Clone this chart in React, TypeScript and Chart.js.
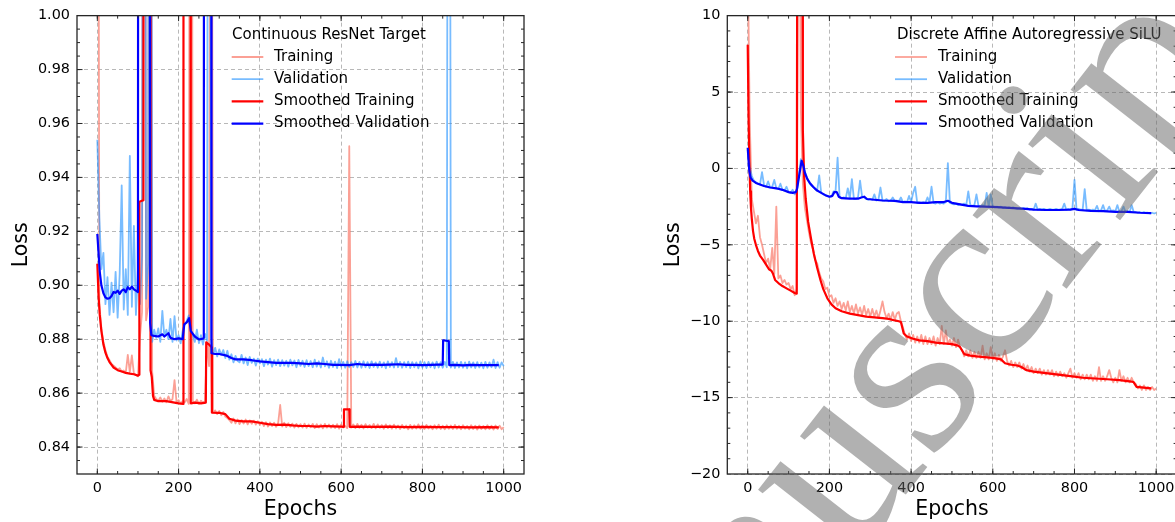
import React, { useEffect, useRef } from "react";
import { Chart, registerables } from "chart.js";
Chart.register(...registerables);

const FONT = "'DejaVu Sans', 'Noto Sans', sans-serif";

// raw logs are sampled every 5 epochs
const epochs: number[] = Array.from({ length: 201 }, (_, i) => i * 5);
const xMajorTicks = [0, 200, 400, 600, 800, 1000];
const yTicksLeft = [0.84, 0.86, 0.88, 0.9, 0.92, 0.94, 0.96, 0.98, 1.0];
const yTicksRight = [-20, -15, -10, -5, 0, 5, 10];

// ---------- Left panel: Continuous ResNet Target ----------
const trainLeft = [
  1.30, .893, .884, .879, .876, .8735, .8722, .8708, .8702, .8695,
  .8688, .8692, .8680, .8684, .8675, .8742, .8678, .8740, .8672, .8668,
  .8662, .8810, .8900, 1.40, .8870, .8920, 1.40, .8680, .8590, .8578,
  .8572, .8584, .8568, .8580, .8566, .8588, .8570, .8578, .8648, .8566,
  .8574, .8562, .8570, .8566, .8578, .8560, 1.40, .8570, .8562, .8576,
  .8560, .8572, .8564, .8570, .8790, .8700, 1.20, .8530, .8536, .8522,
  .8534, .8518, .8530, .8513, .8508, .8500, .8490, .8506, .8488, .8502,
  .8485, .8500, .8487, .8502, .8484, .8499, .8486, .8498, .8483, .8496,
  .8482, .8494, .8478, .8492, .8476, .8491, .8478, .8490, .8475, .8489,
  .8556, .8476, .8490, .8474, .8488, .8475, .8487, .8472, .8486, .8473,
  .8485, .8472, .8487, .8471, .8484, .8473, .8486, .8470, .8485, .8472,
  .8484, .8469, .8486, .8472, .8484, .8471, .8483, .8470, .8485, .8468,
  .8484, .8472, .8478, .8470, .9516, .8472, .8484, .8470, .8486, .8471,
  .8483, .8469, .8485, .8472, .8482, .8470, .8486, .8469, .8484, .8471,
  .8482, .8468, .8484, .8470, .8481, .8468, .8483, .8469, .8480, .8467,
  .8482, .8470, .8480, .8466, .8482, .8468, .8481, .8469, .8484, .8468,
  .8480, .8467, .8482, .8469, .8479, .8466, .8481, .8468, .8483, .8467,
  .8479, .8466, .8481, .8468, .8480, .8467, .8482, .8468, .8479, .8466,
  .8481, .8468, .8478, .8466, .8481, .8467, .8479, .8465, .8480, .8467,
  .8478, .8466, .8481, .8467, .8479, .8465, .8480, .8467, .8479, .8466,
  .8474,
];
const valLeft = [
  .954, .925, .906, .912, .893, .903, .889, .901, .890, .905,
  .888, .904, .937, .891, .906, .889, .948, .892, .922, .889,
  .906, .893, .911, 1.40, .895, .908, 1.40, .879, .8835, .8805,
  .8840, .8790, .8905, .8810, .8835, .8800, .8875, .8790, .8885, .8795,
  .8815, .8785, .8830, .8855, .8868, .8888, .8835, .8815, .8790, .8835,
  .8785, .8815, .8780, .8820, .8795, 1.40, .8805, .8745, .8768, .8736,
  .8762, .8742, .8760, .8730, .8757, .8724, .8744, .8714, .8738, .8720,
  .8714, .8742, .8710, .8732, .8704, .8734, .8712, .8728, .8702, .8728,
  .8710, .8726, .8700, .8724, .8706, .8728, .8698, .8722, .8704, .8724,
  .8700, .8722, .8702, .8720, .8698, .8724, .8703, .8721, .8696, .8723,
  .8701, .8720, .8697, .8722, .8700, .8719, .8696, .8724, .8698, .8718,
  .8695, .8732, .8699, .8718, .8694, .8720, .8697, .8717, .8693, .8726,
  .8698, .8716, .8694, .8718, .8696, .8715, .8697, .8719, .8695, .8716,
  .8694, .8718, .8696, .8715, .8693, .8718, .8697, .8714, .8694, .8717,
  .8696, .8714, .8692, .8718, .8697, .8715, .8695, .8730, .8696, .8716,
  .8694, .8715, .8696, .8717, .8693, .8715, .8696, .8714, .8692, .8718,
  .8695, .8715, .8693, .8716, .8696, .8714, .8692, .8717, .8695, .8715,
  .8694, .8716, .8696, 1.40, .8695, .8716, .8693, .8714, .8695, .8716,
  .8694, .8714, .8692, .8717, .8695, .8714, .8693, .8715, .8695, .8713,
  .8692, .8716, .8694, .8714, .8696, .8724, .8693, .8715, .8694, .8714,
  .8700,
];
const smoothTrainLeftEpochs = [
  0, 3, 6, 10, 15, 20, 25, 30, 40, 50, 60, 70, 80, 90, 100, 103, 103.5, 113, 113.5, 130,
  131, 134, 137, 140, 150, 170, 190, 200, 211, 212, 229, 230, 240, 255, 267, 268, 275, 281, 282, 300,
  315, 325, 340, 360, 380, 400, 420, 440, 460, 480, 500, 520, 540, 560, 580, 600, 606, 607, 620, 621,
  640, 680, 720, 760, 800, 840, 880, 920, 960, 988,
];
const smoothTrainLeftValues = [
  .908, .896, .889, .883, .878, .875, .873, .8715, .8695, .8685, .868, .8675, .8672, .867, .8665, .8668, .931, .9315, 1.3, 1.3,
  .8685, .866, .859, .8575, .857, .857, .8565, .8562, .856, 1.3, 1.3, .8562, .8565, .8562, .8565, .8788, .878, .877, .8528, .8527,
  .8522, .8505, .8498, .8495, .8495, .849, .8485, .8482, .8483, .848, .8478, .8478, .8476, .8478, .8477, .8476, .8475, .854, .854, .8475,
  .8476, .8475, .8476, .8474, .8475, .8474, .8474, .8473, .8474, .8473,
];
const smoothValLeftEpochs = [
  0, 3, 6, 10, 15, 20, 25, 30, 35, 40, 45, 50, 55, 60, 65, 70, 75, 80, 85, 90,
  95, 100, 101, 129, 130, 133, 140, 150, 160, 165, 175, 180, 190, 200, 210, 214, 220, 226, 230, 240,
  250, 260, 262, 263, 280, 281, 290, 300, 310, 320, 330, 340, 360, 380, 400, 420, 440, 460, 480, 500,
  520, 540, 560, 580, 600, 620, 640, 660, 680, 700, 720, 740, 760, 780, 800, 820, 840, 850, 851, 865,
  866, 880, 900, 920, 940, 960, 988,
];
const smoothValLeftValues = [
  .919, .912, .905, .900, .897, .8955, .895, .8952, .896, .8975, .8972, .898, .8968, .898, .8985, .8975, .8993, .8985, .8995, .8985,
  .898, .8975, 1.3, 1.3, .886, .8815, .8812, .881, .8818, .881, .8822, .8805, .880, .8803, .880, .8855, .8862, .8878, .883, .881,
  .8799, .8802, .8805, 1.3, 1.3, .8748, .8745, .8745, .8742, .8738, .873, .8725, .8725, .8722, .8718, .8715, .8712, .8712, .8712, .871,
  .8708, .871, .8708, .8705, .8705, .8704, .8708, .8705, .8706, .8705, .8706, .8707, .8705, .8705, .8704, .8705, .8706, .8706, .8796, .8793,
  .8704, .8705, .8703, .8705, .8704, .8704, .8704,
];

// ---------- Right panel: Discrete Affine Autoregressive SiLU ----------
const trainRight = [
  14.0, 3.0, -2.0, -2.8, -3.6, -3.1, -4.5, -5.0, -5.6, -6.2,
  -5.9, -6.6, -5.2, -6.9, -2.5, -7.2, -7.0, -7.5, -7.3, -7.6,
  -7.5, -7.9, -7.7, -8.3, -7.9, 30.0, 3.9,
  -1.0, -2.6, -3.4, -4.2, -4.9, -5.3, -6.0, -6.2, -6.8, -7.2,
  -7.4, -7.9, -7.8, -8.4, -8.3, -8.8, -8.5, -9.0, -8.7, -9.2,
  -8.8, -9.3, -8.7, -9.4, -9.0, -9.5, -8.9, -9.5, -9.1, -9.6,
  -9.0, -9.6, -9.2, -9.7, -9.2, -9.7, -9.3, -9.8, -9.3, -8.7,
  -9.4, -9.8, -9.5, -9.9, -9.4, -9.9, -9.5, -9.4, -10.0, -10.4,
  -10.9, -11.2, -10.8, -11.3, -10.9, -11.4, -11.0, -11.4, -10.9, -11.5,
  -11.0, -11.5, -11.1, -11.5, -11.0, -11.6, -11.1, -11.5, -10.3, -11.5,
  -10.6, -11.5, -11.2, -11.6, -11.1, -11.7, -11.2, -11.7, -11.9, -12.3,
  -11.9, -12.3, -11.9, -12.4, -12.0, -12.4, -12.0, -12.4, -11.6, -12.5,
  -12.1, -12.5, -11.7, -12.5, -12.1, -12.6, -12.2, -12.6, -12.3, -11.9,
  -12.6, -12.9, -12.6, -13.0, -12.7, -13.0, -12.7, -13.1, -12.8, -13.2,
  -12.9, -13.3, -13.0, -13.4, -13.1, -13.4, -13.1, -13.5, -13.2, -13.5,
  -13.2, -13.5, -13.2, -13.6, -13.3, -13.6, -13.3, -13.6, -13.4, -13.7,
  -13.4, -13.1, -13.7, -13.4, -13.7, -13.4, -13.8, -13.5, -13.8, -13.5,
  -13.8, -13.5, -13.9, -13.6, -13.9, -13.0, -13.9, -13.6, -13.9, -13.6,
  -13.2, -13.7, -14.0, -13.7, -14.0, -13.2, -13.9, -13.6, -14.0, -13.7,
  -14.0, -13.7, -14.0, -14.1, -14.4, -14.2, -14.5, -14.2, -14.5, -14.3,
  -14.5, -14.3, -14.5, -14.4,
];
const valRight = [
  1.2, 0.1, -0.5, -0.8, -0.9, -1.0, -1.05, -0.25, -1.1, -1.2,
  -0.85, -1.25, -1.2, -0.75, -1.3, -1.35, -1.0, -1.4, -1.45, -1.2,
  -1.55, -1.6, -1.4, -1.7, -1.6, -0.5, 0.6, 0.3, -0.2, -0.6,
  -0.9, -1.1, -1.2, -1.35, -1.45, -0.45, -1.6, -1.7, -1.75, -1.8,
  -1.85, -1.85, -1.5, -1.5, 0.7, -1.9, -1.95, -1.9, -1.95, -1.3,
  -1.95, -0.7, -2.0, -2.0, -1.9, -0.8, -1.85, -1.9, -2.0, -2.05,
  -2.0, -2.05, -1.7, -2.1, -2.05, -1.25, -2.1, -2.1, -2.0, -2.15,
  -2.1, -1.9, -2.15, -2.1, -2.15, -1.9, -2.2, -2.15, -2.2, -1.8,
  -2.2, -1.6, -1.2, -2.25, -2.2, -2.25, -2.2, -2.25, -1.9, -2.2,
  -1.2, -2.25, -2.3, -2.2, -2.3, -2.25, -2.3, -2.2, 0.35, -2.25,
  -2.3, -2.35, -2.3, -2.4, -2.35, -2.4, -2.3, -2.4, -1.5, -2.4,
  -2.45, -2.4, -1.7, -2.45, -2.5, -2.4, -2.45, -1.6, -2.5, -1.7,
  -2.5, -2.55, -2.5, -2.55, -2.5, -2.6, -2.55, -2.6, -2.55, -2.6,
  -2.55, -2.6, -2.65, -2.6, -2.65, -2.6, -2.65, -2.6, -2.7, -2.65,
  -2.7, -2.3, -2.7, -2.65, -2.7, -2.65, -2.7, -2.7, -2.65, -2.7,
  -2.7, -2.65, -2.7, -2.7, -2.65, -2.3, -2.7, -2.65, -2.7, -2.6,
  -0.75, -2.7, -2.65, -2.7, -2.7, -1.35, -2.75, -2.7, -2.75, -2.7,
  -2.75, -2.45, -2.8, -2.75, -2.4, -2.8, -2.75, -2.5, -2.8, -2.75,
  -2.8, -2.4, -2.85, -2.8, -2.5, -2.85, -2.8, -2.85, -2.4, -2.85,
  -2.85, -2.9, -2.85, -2.9, -2.85, -2.9, -2.9, -2.95, -2.9, -2.95,
  -2.9,
];
const smoothTrainRightEpochs = [
  0, 2, 4, 6, 8, 10, 13, 16, 20, 25, 30, 38, 45, 52, 58, 62, 67, 75, 85, 95,
  105, 115, 120, 121, 134, 135, 138, 142, 148, 155, 162, 170, 178, 185, 195, 205, 215, 230, 250, 270,
  290, 310, 330, 345, 360, 370, 375, 382, 390, 405, 420, 440, 460, 480, 500, 515, 520, 530, 545, 560,
  580, 600, 620, 630, 645, 660, 670, 682, 700, 730, 760, 790, 820, 850, 880, 910, 940, 945, 952, 970,
  988,
];
const smoothTrainRightValues = [
  8.1, 3.5, 0.5, -1.5, -2.6, -3.3, -4.1, -4.6, -5.0, -5.4, -5.7, -6.0, -6.3, -6.6, -6.7, -6.9, -7.3, -7.5, -7.7, -7.85,
  -8.0, -8.15, -8.2, 12, 12, 2.5, -0.5, -2.0, -3.5, -4.6, -5.6, -6.5, -7.3, -7.9, -8.5, -8.9, -9.15, -9.35, -9.5, -9.6,
  -9.7, -9.75, -9.8, -9.85, -9.95, -10.0, -10.05, -10.8, -11.0, -11.15, -11.25, -11.3, -11.4, -11.45, -11.5, -11.6, -11.7, -12.15, -12.25, -12.3,
  -12.35, -12.4, -12.5, -12.75, -12.85, -12.9, -13.0, -13.2, -13.3, -13.4, -13.5, -13.6, -13.7, -13.75, -13.8, -13.85, -13.95, -14.0, -14.3, -14.35,
  -14.4,
];
const smoothValRightEpochs = [
  0, 2, 4, 7, 12, 20, 30, 40, 55, 70, 85, 100, 110, 118, 121, 127, 132, 136, 140, 146,
  152, 160, 170, 180, 190, 200, 207, 212, 218, 223, 230, 250, 270, 278, 285, 292, 310, 330, 360, 380,
  400, 420, 440, 460, 480, 490, 500, 520, 540, 560, 580, 600, 620, 650, 680, 700, 730, 760, 790, 800,
  810, 840, 870, 900, 930, 960, 988,
];
const smoothValRightValues = [
  1.35, 0.5, -0.2, -0.6, -0.8, -0.95, -1.05, -1.15, -1.25, -1.3, -1.4, -1.55, -1.6, -1.55, -1.3, -0.3, 0.5, 0.2, -0.3, -0.7,
  -0.95, -1.2, -1.45, -1.6, -1.75, -1.85, -1.8, -1.55, -1.55, -1.85, -1.95, -1.98, -1.98, -1.9, -1.85, -2.0, -2.05, -2.1, -2.12, -2.2,
  -2.2, -2.25, -2.25, -2.2, -2.2, -2.12, -2.25, -2.35, -2.45, -2.48, -2.5, -2.52, -2.55, -2.6, -2.65, -2.7, -2.72, -2.72, -2.7, -2.65,
  -2.72, -2.78, -2.8, -2.85, -2.85, -2.9, -2.92,
];

const legendLabels = ["Training", "Validation", "Smoothed Training", "Smoothed Validation"];
const TRAIN_COLOR = "rgba(250,128,114,0.75)";
const VAL_COLOR = "rgba(30,144,255,0.6)";
const SMOOTH_TRAIN_COLOR = "#ff0000";
const SMOOTH_VAL_COLOR = "#0000ff";
const legendColors = [TRAIN_COLOR, VAL_COLOR, SMOOTH_TRAIN_COLOR, SMOOTH_VAL_COLOR];

const zip = (xs: number[], ys: number[]) => xs.map((x, i) => ({ x, y: ys[i] }));

const axisDecor = {
  id: "axisDecor",
  afterDatasetsDraw(chart: any, _args: any, opts: any) {
    const { ctx, chartArea: a, scales } = chart;
    const xs = scales.x, ys = scales.y;
    ctx.save();
    ctx.strokeStyle = "#262626";
    ctx.lineWidth = 1;
    const drawX = (v: number, len: number) => {
      const p = xs.getPixelForValue(v);
      if (p < a.left + 0.5 || p > a.right - 0.5) return;
      ctx.beginPath();
      ctx.moveTo(p, a.bottom); ctx.lineTo(p, a.bottom - len);
      ctx.moveTo(p, a.top); ctx.lineTo(p, a.top + len);
      ctx.stroke();
    };
    const drawY = (v: number, len: number) => {
      const p = ys.getPixelForValue(v);
      if (p < a.top + 0.5 || p > a.bottom - 0.5) return;
      ctx.beginPath();
      ctx.moveTo(a.left, p); ctx.lineTo(a.left + len, p);
      ctx.moveTo(a.right, p); ctx.lineTo(a.right - len, p);
      ctx.stroke();
    };
    for (let v = opts.xMin; v <= opts.xMax + 1e-9; v += opts.xMinorStep) drawX(v, 3);
    for (let k = 0; k <= Math.round((opts.yMax - opts.yMin) / opts.yMinorStep); k++) drawY(opts.yMin + k * opts.yMinorStep, 3);
    opts.xMajor.forEach((v: number) => drawX(v, 5.5));
    opts.yMajor.forEach((v: number) => drawY(v, 5.5));
    ctx.lineWidth = 1.3;
    ctx.strokeRect(a.left, a.top, a.right - a.left, a.bottom - a.top);
    ctx.restore();
  },
};

const customLegend = {
  id: "customLegend",
  afterDraw(chart: any, _args: any, opts: any) {
    const { ctx } = chart;
    ctx.save();
    ctx.font = `15px ${FONT}`;
    ctx.fillStyle = "#000";
    ctx.textBaseline = "middle";
    ctx.textAlign = "left";
    ctx.fillText(opts.title, opts.titleX, opts.titleY);
    legendLabels.forEach((lab, i) => {
      const y = opts.rowY + i * opts.rowGap;
      ctx.strokeStyle = legendColors[i];
      ctx.lineWidth = i < 2 ? 1.8 : 2.2;
      ctx.beginPath();
      ctx.moveTo(opts.lineX0, y);
      ctx.lineTo(opts.lineX1, y);
      ctx.stroke();
      ctx.fillText(lab, opts.textX, y);
    });
    ctx.restore();
  },
};

const watermark = {
  id: "watermark",
  afterDraw(chart: any, _args: any, opts: any) {
    if (!opts || !opts.text) return;
    const { ctx } = chart;
    ctx.save();
    ctx.font = `${opts.size}px 'Liberation Serif', 'DejaVu Serif', serif`;
    ctx.fillStyle = "rgba(100,100,100,0.5)";
    ctx.textBaseline = "alphabetic";
    ctx.translate(opts.x, opts.y);
    ctx.rotate((opts.angle * Math.PI) / 180);
    const pre = ctx.measureText(opts.text.slice(0, opts.anchorIndex)).width;
    ctx.fillText(opts.text, -pre, 0);
    ctx.restore();
  },
};

function makeConfig(p: any) {
  return {
    type: "line",
    data: {
      datasets: [
        { label: "Smoothed Validation", data: zip(p.svE, p.svV), borderColor: SMOOTH_VAL_COLOR, borderWidth: 2.2, order: 0 },
        { label: "Smoothed Training", data: zip(p.stE, p.stV), borderColor: SMOOTH_TRAIN_COLOR, borderWidth: 2.2, order: 1 },
        { label: "Validation", data: zip(epochs, p.val), borderColor: VAL_COLOR, borderWidth: 1.8, order: 2 },
        { label: "Training", data: zip(epochs, p.train), borderColor: TRAIN_COLOR, borderWidth: 1.8, order: 3 },
      ],
    },
    options: {
      animation: false,
      responsive: false,
      events: [],
      elements: {
        point: { radius: 0, hoverRadius: 0 },
        line: { tension: 0, borderJoinStyle: "round", fill: false },
      },
      datasets: { line: { clip: 0 } },
      layout: { padding: { left: 0, right: p.padRight, top: 15, bottom: 0 } },
      plugins: {
        legend: { display: false },
        tooltip: { enabled: false },
        axisDecor: p.decor,
        customLegend: p.legend,
        watermark: p.watermark || {},
      },
      scales: {
        x: {
          type: "linear",
          min: -50,
          max: 1050,
          afterBuildTicks: (s: any) => { s.ticks = xMajorTicks.map((v) => ({ value: v })); },
          afterFit: (s: any) => { s.height = 48; },
          ticks: { font: { family: FONT, size: 14.4 }, color: "#000", padding: 6, maxRotation: 0, autoSkip: false, callback: (v: any) => String(v) },
          grid: { color: "#b8b8b8", lineWidth: 1, drawTicks: false },
          border: { display: false, dash: [4, 3] },
          title: { display: true, text: "Epochs", font: { family: FONT, size: 20.5 }, color: "#000", padding: { top: 0, bottom: 0 } },
        },
        y: {
          type: "linear",
          min: p.yMin,
          max: p.yMax,
          afterBuildTicks: (s: any) => { s.ticks = p.yTicks.map((v: number) => ({ value: v })); },
          afterFit: (s: any) => { s.width = p.yWidth; },
          ticks: { font: { family: FONT, size: 14.4 }, color: "#000", padding: 7, autoSkip: false, callback: p.yFmt },
          grid: { color: "#b8b8b8", lineWidth: 1, drawTicks: false },
          border: { display: false, dash: [4, 3] },
          title: { display: true, text: "Loss", font: { family: FONT, size: 20.5 }, color: "#000", padding: { top: p.yTitlePad, bottom: 0 } },
        },
      },
    },
    plugins: [axisDecor, customLegend, watermark],
  };
}

const leftParams = {
  train: trainLeft, val: valLeft,
  stE: smoothTrainLeftEpochs, stV: smoothTrainLeftValues,
  svE: smoothValLeftEpochs, svV: smoothValLeftValues,
  yMin: 0.83, yMax: 1.0, yTicks: yTicksLeft, yWidth: 77, padRight: 66, yTitlePad: 9,
  yFmt: (v: any) => Number(v).toFixed(2),
  decor: { xMin: -50, xMax: 1050, xMinorStep: 50, yMin: 0.83, yMax: 1.0, yMinorStep: 0.005, xMajor: xMajorTicks, yMajor: yTicksLeft },
  legend: { title: "Continuous ResNet Target", titleX: 232, titleY: 35, rowY: 57, rowGap: 22.2, lineX0: 231.7, lineX1: 263.3, textX: 274 },
};

const rightParams = {
  train: trainRight, val: valRight,
  stE: smoothTrainRightEpochs, stV: smoothTrainRightValues,
  svE: smoothValRightEpochs, svV: smoothValRightValues,
  yMin: -20, yMax: 10, yTicks: yTicksRight, yWidth: 137.3, padRight: 13.4, yTitlePad: 71,
  yFmt: (v: any) => (Number(v) < 0 ? "\u2212" + Math.abs(Number(v)) : String(v)),
  decor: { xMin: -50, xMax: 1050, xMinorStep: 50, yMin: -20, yMax: 10, yMinorStep: 1, xMajor: xMajorTicks, yMajor: yTicksRight },
  legend: { title: "Discrete Affine Autoregressive SiLU", titleX: 307, titleY: 35, rowY: 57, rowGap: 22.2, lineX0: 305, lineX1: 337, textX: 348 },
  watermark: { text: "Manuscript", anchorIndex: 3, size: 260, angle: -52, x: 850 - 590, y: 566 },
};

function Panel({ params, left, width }: { params: any; left: number; width: number }) {
  const ref = useRef<HTMLCanvasElement | null>(null);
  useEffect(() => {
    if (!ref.current) return;
    const chart = new Chart(ref.current, makeConfig(params) as any);
    return () => chart.destroy();
  }, [params]);
  return (
    <canvas ref={ref} width={width} height={522}
      style={{ position: "absolute", left, top: 0, width, height: 522 }} />
  );
}

export default function App() {
  return (
    <div style={{ position: "fixed", left: 0, top: 0, width: 1175, height: 522, overflow: "hidden", background: "#fff" }}>
      <Panel params={leftParams} left={0} width={590} />
      <Panel params={rightParams} left={590} width={600} />
    </div>
  );
}
